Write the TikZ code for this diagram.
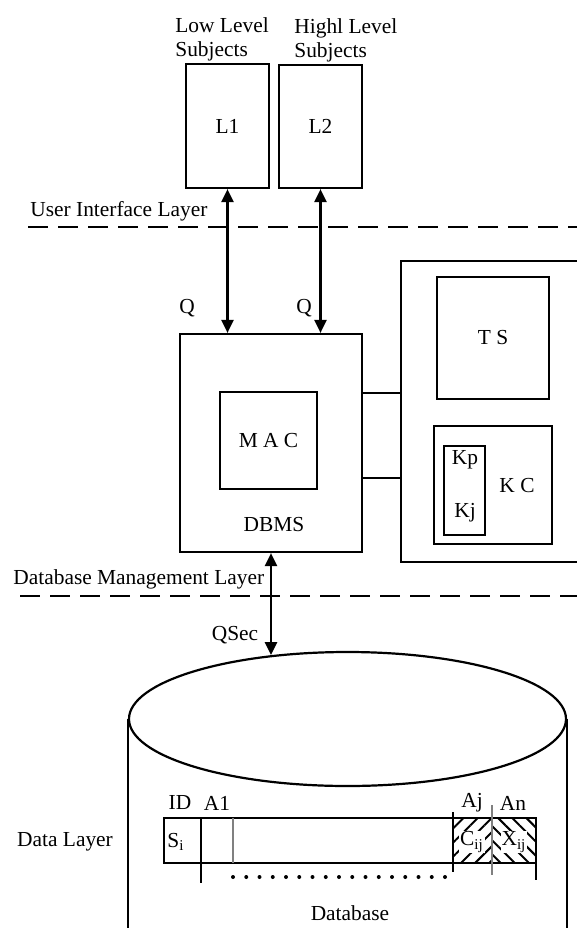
\documentclass[tikz,border=0pt]{standalone}
\usepackage{fontspec}
\setmainfont{Liberation Serif}
\usetikzlibrary{arrows.meta,shapes.geometric,patterns.meta}
\begin{document}
\begin{tikzpicture}[x=0.5pt,y=-0.5pt,
  every node/.style={font=\fontsize{10.7pt}{12pt}\selectfont},
  blk/.style={draw,line width=1.1pt,inner sep=0pt},
  qarrow/.style={line width=1.1pt,{Triangle[length=6.5pt,width=6pt]}-{Triangle[length=6.5pt,width=6pt]}},
  layer/.style={line width=1.4pt,dash pattern=on 10pt off 5pt}]
\useasboundingbox (0,0) rectangle (577,928);
\clip (0,0) rectangle (577,928);
\node[anchor=north west,inner sep=0pt,align=left] (lowtxt) at (175,17) {Low Level\\Subjects};
\node[anchor=north west,inner sep=0pt,align=left] (hightxt) at (294,18) {Highl Level\\Subjects};
\node[blk,minimum width=41.5pt,minimum height=62pt] (l1) at (227.5,126) {L1};
\node[blk,minimum width=41.5pt,minimum height=61.5pt] (l2) at (320.5,126.5) {L2};
\node[anchor=west,inner sep=0pt] (uil) at (30,211) {User Interface Layer};
\draw[layer] (28,227) -- (577,227);
\node[blk,minimum width=91pt,minimum height=109pt] (dbms) at (271,443) {};
\node (dbmstxt) at (274,525) {DBMS};
\node[blk,minimum size=48.5pt] (mac) at (268.5,440.5) {M A C};
\draw[qarrow] (l1.south) -- (l1.south |- dbms.north);
\draw[qarrow] (l2.south) -- (l2.south |- dbms.north);
\node (q1) at (187,308) {Q};
\node (q2) at (304,308) {Q};
\node[blk,minimum width=109.5pt,minimum height=150.5pt] (srv) at (510.5,411.5) {};
\node[blk,minimum width=56pt,minimum height=61pt] (ts) at (493,338) {T S};
\node[blk,minimum size=59pt] (kc) at (493,485) {};
\node (kctxt) at (517,486) {K C};
\node[blk,minimum width=20.5pt,minimum height=44.5pt] (kpj) at (464.5,490.5) {};
\node (kp) at (465,460) {Kp};
\node (kj) at (465,513) {Kj};
\draw[line width=1.1pt] ([yshift=25pt]dbms.east) -- ([yshift=25pt]dbms.east -| srv.west);
\draw[line width=1.1pt] ([yshift=-17.5pt]dbms.east) -- ([yshift=-17.5pt]dbms.east -| srv.west);
\node[anchor=west,inner sep=0pt] (dml) at (13,579) {Database Management Layer};
\draw[layer] (20,596) -- (577,596);
\node[ellipse,draw,line width=1.1pt,minimum width=218.5pt,minimum height=67pt,inner sep=0pt] (dbtop) at (347.5,719) {};
\draw[line width=1.1pt] (dbtop.west) -- ++(0,240);
\draw[line width=1.1pt] (dbtop.east) -- ++(0,240);
\draw[qarrow] (dbms.south) -- (dbms.south |- dbtop.140);
\node (qsec) at (235,635) {QSec};
\fill[pattern={Lines[angle=45,distance=5pt,line width=1pt]}] (453,818) rectangle (492,863);
\fill[pattern={Lines[angle=-45,distance=5pt,line width=1pt]}] (492,818) rectangle (536,863);
\draw[line width=1.1pt] (164,818) rectangle (536,863);
\draw[line width=1.1pt] (201,818) -- (201,883);
\draw[line width=1.1pt] (453,812) -- (453,872);
\draw[line width=1.1pt] (536,863) -- (536,880);
\draw[gray,line width=1.1pt] (233,818) -- (233,863);
\draw[gray,line width=1.1pt] (492,805) -- (492,875);
\node (id) at (180,803) {ID};
\node (a1) at (217,803) {A1};
\node (aj) at (472,803) {Aj};
\node (an) at (513,803) {An};
\node (si) at (176,842) {S\textsubscript{i}};
\node[fill=white,inner sep=0.5pt] (cij) at (472,842) {C\textsubscript{ij}};
\node[fill=white,inner sep=0.5pt] (xij) at (514,842) {X\textsubscript{ij}};
\foreach \i in {0,...,16}
{
\fill (233+\i*13.25,877) circle (1pt);
}
\node (dbtxt) at (350,913) {Database};
\node (dltxt) at (65,842) {Data Layer};
\end{tikzpicture}
\end{document}
